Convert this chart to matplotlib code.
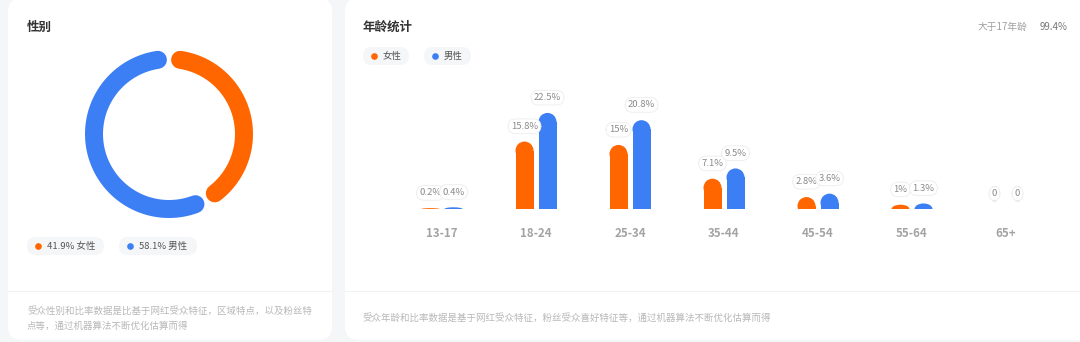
import numpy as np
import matplotlib
matplotlib.use("Agg")
import matplotlib.pyplot as plt
from matplotlib.patches import FancyBboxPatch, Rectangle, Ellipse

plt.rcParams["font.family"] = ["Noto Sans CJK SC", "DejaVu Sans"]

# ── Data ──────────────────────────────────────────────────────────────────────
gender_labels = ["女性", "男性"]
gender_share = [41.9, 58.1]

age_groups = ["13-17", "18-24", "25-34", "35-44", "45-54", "55-64", "65+"]
female_pct = [0.2, 15.8, 15, 7.1, 2.8, 1, 0]
male_pct = [0.4, 22.5, 20.8, 9.5, 3.6, 1.3, 0]
adult_share = 99.4

ORANGE = "#ff6600"
BLUE = "#3c7ff5"
BG = "#f5f6f8"
W, H = 1080, 342

fig = plt.figure(figsize=(W / 100, H / 100), dpi=100, facecolor=BG)

# background axes in pixel coordinates (y downwards)
bg = fig.add_axes([0, 0, 1, 1])
bg.set_xlim(0, W)
bg.set_ylim(H, 0)
bg.axis("off")

# cards
for x0, w in [(8, 324), (345, 760)]:
    bg.add_patch(FancyBboxPatch((x0, -2), w, 342, boxstyle="round,pad=0,rounding_size=14",
                                fc="white", ec="none", zorder=0))
bg.plot([8, 332], [291, 291], color="#f1f2f4", lw=0.8, zorder=1)
bg.plot([345, W], [291, 291], color="#f1f2f4", lw=0.8, zorder=1)

# titles
bg.text(27, 27, "性别", fontsize=9, fontweight="bold", color="#333333", va="center")
bg.text(363, 27, "年龄统计", fontsize=9, fontweight="bold", color="#333333", va="center")
bg.text(1027, 27, "大于17年龄", fontsize=7, color="#a0a0a0", va="center", ha="right")
bg.text(1068, 27, f"{adult_share}%", fontsize=7, color="#777777", va="center", ha="right")


def chip(x0, y0, w, color, text):
    bg.add_patch(FancyBboxPatch((x0, y0), w, 18, boxstyle="round,pad=0,rounding_size=9",
                                fc="#f5f6f8", ec="none", zorder=1))
    bg.plot(x0 + 11, y0 + 9, "o", ms=4.8, color=color, mec="none", zorder=2)
    bg.text(x0 + 20, y0 + 9, text, fontsize=6.8, color="#555555", va="center", zorder=2)


# ── Donut ─────────────────────────────────────────────────────────────────────
cx, cy, r_mid = 169, 134, 75
gap = 8.5
start = 0.0
for share, color in zip(gender_share, [ORANGE, BLUE]):
    end = start + share / 100 * 360
    th = np.radians(np.linspace(start + gap, end - gap, 200))
    bg.plot(cx + r_mid * np.sin(th), cy - r_mid * np.cos(th), color=color,
            lw=18 * 0.72, solid_capstyle="round", zorder=2)
    start = end

chip(27, 237, 77, ORANGE, f"{gender_share[0]}% {gender_labels[0]}")
chip(119, 237, 78, BLUE, f"{gender_share[1]}% {gender_labels[1]}")

chip(363, 47, 46, ORANGE, "女性")
chip(424, 47, 47, BLUE, "男性")

# footers
bg.text(27, 311, "受众性别和比率数据是比基于网红受众特征，区域特点，以及粉丝特",
        fontsize=6.8, color="#b8b8b8", va="center")
bg.text(27, 326, "点等，通过机器算法不断优化估算而得", fontsize=6.8, color="#b8b8b8", va="center")
bg.text(362, 318, "受众年龄和比率数据是基于网红受众特征，粉丝受众喜好特征等，通过机器算法不断优化估算而得",
        fontsize=6.8, color="#b8b8b8", va="center")

# ── Bar chart ─────────────────────────────────────────────────────────────────
px_per_unit = 4.27
ymax = 25
base_px = 209
left_px, width_px = 395, 658
top_px = base_px - ymax * px_per_unit
ax = fig.add_axes([left_px / W, (H - base_px) / H, width_px / W, (base_px - top_px) / H])
ax.set_xlim(-0.5, len(age_groups) - 0.5)
ax.set_ylim(0, ymax)
ax.patch.set_alpha(0)
for s in ax.spines.values():
    s.set_visible(False)
ax.set_yticks([])
ax.set_xticks(range(len(age_groups)))
ax.set_xticklabels(age_groups, fontsize=8.3, color="#a3a3a3", fontweight="bold")
ax.tick_params(axis="x", length=0, pad=13)

grp_px = width_px / len(age_groups)
bw = 18 / grp_px
off = 11.5 / grp_px
cap_r = 9 / px_per_unit


def rbar(xc, h, color):
    if h <= 0:
        return
    rr = min(cap_r, h)
    body = h - rr
    if body > 0:
        ax.add_patch(Rectangle((xc - bw / 2, 0), bw, body, fc=color, ec="none", zorder=2))
    ax.add_patch(Ellipse((xc, body), bw, 2 * rr, fc=color, ec="none", zorder=2))


for i, (f, m) in enumerate(zip(female_pct, male_pct)):
    for xc, v, color in [(i - off, f, ORANGE), (i + off, m, BLUE)]:
        rbar(xc, v, color)
        txt = "0" if v == 0 else f"{v:g}%"
        ax.annotate(txt, (xc, v), xytext=(0, 11), textcoords="offset points",
                    ha="center", va="center", fontsize=6.8, color="#8a8a8a",
                    annotation_clip=False, zorder=3,
                    bbox=dict(boxstyle="round,pad=0.3,rounding_size=0.8",
                              fc="white", ec="#ececec", lw=0.6))

fig.savefig("out.png", dpi=100, facecolor=BG)
